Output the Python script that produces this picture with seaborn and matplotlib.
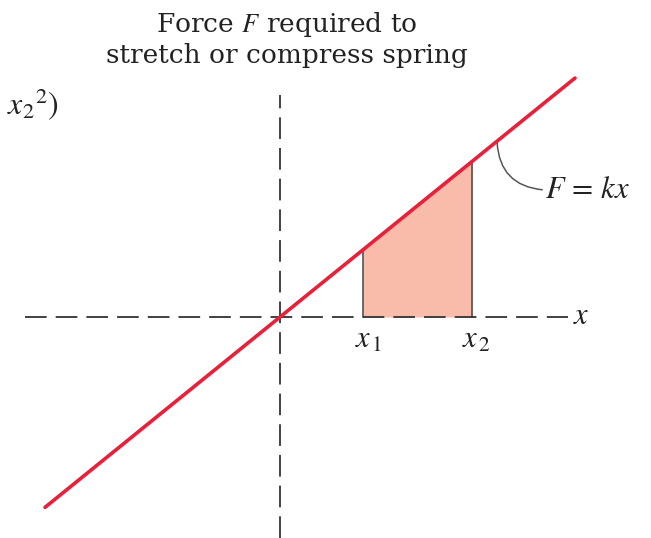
import matplotlib
matplotlib.use("Agg")
import matplotlib.pyplot as plt
import seaborn as sns
import numpy as np
import pandas as pd

# data (units: arbitrary displacement, origin at the axes crossing)
line_x = [-235, 295]
k = 0.81
x1, x2 = 83, 192
axis_h = [-255, 288]
axis_v = [-221, 222]

sns.set_theme(style="white")
plt.rcParams['font.family'] = ['DejaVu Serif']
plt.rcParams['mathtext.fontset'] = 'stix'

fig = plt.figure(figsize=(6.51, 5.38), dpi=100)
ax = fig.add_axes([0, 0, 1, 1])
ax.set_xlim(-280, 371)
ax.set_ylim(-221, 317)
ax.axis('off')

dash = (0, (12, 5))
gray = '#333333'

# shaded work region
xs = np.array([x1, x2])
ax.fill_between(xs, 0, k * xs, color='#F9BBAA', lw=0, zorder=1)
ax.plot([x1, x1], [0, k * x1], color='#444444', lw=1.1, zorder=3)
ax.plot([x2, x2], [0, k * x2], color='#444444', lw=1.1, zorder=3)

ax.plot(axis_h, [0, 0], color=gray, lw=1.3, linestyle=dash, zorder=3)
ax.plot([0, 0], axis_v, color=gray, lw=1.3, linestyle=dash, zorder=3)

df = pd.DataFrame({'x': line_x, 'F': [k * v for v in line_x]})
sns.lineplot(data=df, x='x', y='F', ax=ax, color='#E8203A', lw=2.6, zorder=4)
ax.set_xlabel('')
ax.set_ylabel('')

ax.text(7, 307, 'Force $F$ required to\nstretch or compress spring', ha='center', va='top',
        fontsize=19, color='#222222', linespacing=1.18, family='DejaVu Serif')
ax.text(-273, 212, r'$x_2{}^2)$', ha='left', va='center', fontsize=23, color='#222222')
ax.text(x1 + 6, -22, r'$x_{\,1}$', ha='center', va='center', fontsize=22, color='#222222')
ax.text(x2 + 5, -22, r'$x_{\,2}$', ha='center', va='center', fontsize=22, color='#222222')
ax.text(293, 2, r'$x$', ha='left', va='center', fontsize=22, color='#222222')
ax.text(265, 127, r'$F\,=\,kx$', ha='left', va='center', fontsize=22, color='#222222')
ax.annotate('', xy=(217, k * 217 + 1), xytext=(265, 127),
            arrowprops=dict(arrowstyle='-', color='#555555', lw=1.1,
                            connectionstyle='arc3,rad=-0.45'))

fig.savefig('out.png', dpi=100)
